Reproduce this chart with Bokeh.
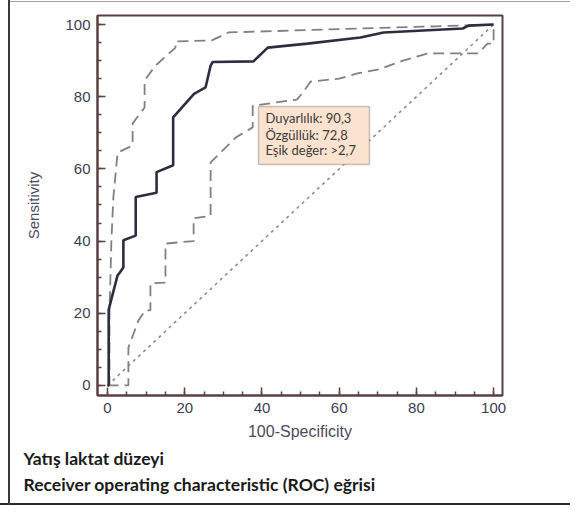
from bokeh.plotting import figure
from bokeh.models import Range1d, FixedTicker, BoxAnnotation, Label, Title
from bokeh.embed import file_html
from bokeh.resources import INLINE

# ROC curve (100-Specificity, Sensitivity)
roc_x = [0, 0.3, 0.3, 1.5, 2.6, 3.0, 4.1, 4.1, 7.3, 7.3, 12.7, 12.7, 17.0, 17.0, 22.4, 25.4, 26.7, 27.2,
         37.8, 41.5, 51.8, 65.5, 71.5, 92.0, 93.5, 100]
roc_y = [0, 0, 21, 26, 30.5, 31, 32.7, 40.2, 41.5, 52.2, 53.4, 59.1, 61, 74.3, 80.8, 82.6, 88.6, 89.6,
         89.8, 93.6, 94.7, 96.4, 97.8, 98.9, 99.7, 100]

# Upper 95% confidence bound
upper_x = [0, 0.5, 0.5, 1.0, 1.5, 2.6, 6.5, 6.5, 9.6, 9.6, 12.4, 17.6, 17.6, 27.0, 31.3, 65.5, 85, 100]
upper_y = [0, 0, 20, 40, 52, 64.5, 66.5, 72.6, 77, 84.5, 88.6, 93.6, 95.3, 95.6, 97.8, 98.9, 99.5, 100]

# Lower 95% confidence bound
lower_x = [0, 4.7, 5.4, 5.4, 8.0, 9.8, 11.1, 11.1, 15.0, 15.0, 22.3, 22.3, 26.7, 26.7, 33.2, 37.6, 37.6,
           49.0, 50.5, 52.6, 60, 65, 70, 74, 76.5, 83, 96, 98.4, 100, 100]
lower_y = [0, 0, 0, 10.5, 18, 20.8, 20.8, 28.3, 28.5, 39.3, 40, 46.3, 47, 61.8, 68.7, 71.5, 77.5,
           79.2, 81, 84.2, 85, 86.5, 87.5, 89, 90, 92, 92, 94.7, 94.7, 100]

# Reference diagonal
diag_x = [0, 100]
diag_y = [0, 100]

major_ticks = [0, 20, 40, 60, 80, 100]
minor_ticks = list(range(0, 101, 5))

box_lines = ["Duyarlılık: 90,3", "Özgüllük: 72,8", "Eşik değer: >2,7"]
caption_lines = ["Yatış laktat düzeyi", "Receiver operating characteristic (ROC) eğrisi"]

AXIS_COL = "#5a4040"

p = figure(width=570, height=505, output_backend="svg", toolbar_location=None,
           x_range=Range1d(-2.6, 102.3), y_range=Range1d(-2.8, 102.5),
           min_border_left=97, min_border_right=68, min_border_top=15, min_border_bottom=110,
           title=None)
p.styles = {
    "background-color": "white",
    "background-image": "linear-gradient(#3a3a3a,#3a3a3a), linear-gradient(#2a2a2a,#2a2a2a), "
                        "linear-gradient(#a0a0a0,#a0a0a0)",
    "background-size": "2px 100%, 100% 2px, 100% 1px",
    "background-position": "8px 0px, 0px 100%, 8px 1px",
    "background-repeat": "no-repeat",
}
p.background_fill_color = "white"
p.border_fill_color = None
p.border_fill_alpha = 0
p.outline_line_color = AXIS_COL
p.outline_line_width = 2
p.xgrid.visible = False
p.ygrid.visible = False

for ax in (p.xaxis[0], p.yaxis[0]):
    ax.ticker = FixedTicker(ticks=major_ticks, minor_ticks=minor_ticks)
    ax.axis_line_color = AXIS_COL
    ax.axis_line_width = 2
    ax.major_tick_line_color = AXIS_COL
    ax.minor_tick_line_color = AXIS_COL
    ax.major_tick_line_width = 1.5
    ax.minor_tick_line_width = 1.5
    ax.major_tick_in = 8
    ax.major_tick_out = 0
    ax.minor_tick_in = 4
    ax.minor_tick_out = 0
    ax.major_label_text_font = "Liberation Sans"
    ax.major_label_text_font_size = "15px"
    ax.major_label_text_color = "#3d3d50"
    ax.axis_label_text_font = "Liberation Sans"
    ax.axis_label_text_font_style = "normal"
    ax.axis_label_text_color = "#4a4a5e"

p.xaxis.major_label_standoff = 7
p.yaxis.major_label_standoff = 7
p.xaxis.axis_label = "100-Specificity"
p.xaxis.axis_label_text_font_size = "16px"
p.xaxis.axis_label_standoff = 7
p.yaxis.axis_label = "Sensitivity"
p.yaxis.axis_label_text_font_size = "15px"
p.yaxis.axis_label_standoff = 20

p.line(diag_x, diag_y, line_color="#8c8c8c", line_width=1.6, line_dash="3 4")
p.line(upper_x, upper_y, line_color="#808080", line_width=1.8, line_dash="11 6")
p.line(lower_x, lower_y, line_color="#808080", line_width=1.8, line_dash="11 6")
p.line(roc_x, roc_y, line_color="#2c2e40", line_width=2.6)

box = BoxAnnotation(left=39.1, right=67.85, bottom=61.2, top=77.3,
                    fill_color="#fbe3cf", fill_alpha=1.0,
                    line_color="#4a4a4a", line_width=1.5)
p.add_layout(box)

for txt, yy in zip(box_lines, [74.0, 69.3, 65.1]):
    p.add_layout(Label(x=40.9, y=yy, text=txt, text_font="Lato", text_font_size="13px",
                       text_color="#3a3a3a", text_baseline="middle", text_align="left"))

for txt, so in zip(caption_lines, [6, 0]):
    p.add_layout(Title(text=txt, align="left", offset=-74, standoff=so,
                       text_font="Lato", text_font_size="17.5px", text_font_style="bold",
                       text_color="#1a1a1a"), "below")

open("out.html", "w").write(file_html(p, INLINE))
